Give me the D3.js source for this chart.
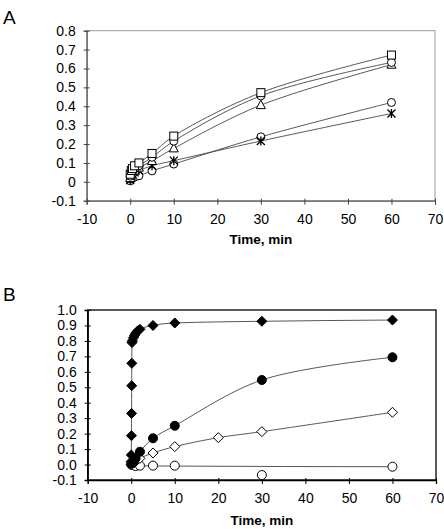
<!DOCTYPE html>
<html><head><meta charset="utf-8">
<script src="https://cdn.jsdelivr.net/npm/d3@7"></script>
<style>
html,body{margin:0;padding:0;background:#fff;}
svg{display:block;font-family:"Liberation Sans",Arial,sans-serif;}
</style></head>
<body>
<svg id="chart" width="444" height="529"></svg>
<script>
// ---------- Panel A data ----------
const timeA = [0, 0.25, 0.5, 1, 2, 5, 10, 30, 60];
const squaresA   = [0.040, 0.060, 0.070, 0.085, 0.100, 0.150, 0.242, 0.472, 0.671];
const circlesHiA = [0.030, 0.050, 0.060, 0.070, 0.085, 0.130, 0.215, 0.455, 0.632];
const trianglesA = [0.020, 0.040, 0.050, 0.060, 0.075, 0.110, 0.177, 0.406, 0.620];
const circlesLoA = [0.005, 0.015, 0.020, 0.025, 0.032, 0.058, 0.094, 0.238, 0.420];
const starsA     = [0.010, 0.030, 0.040, 0.050, 0.060, 0.085, 0.112, 0.216, 0.362];
const xTicks = [-10, 0, 10, 20, 30, 40, 50, 60, 70];
const yTicksA = [-0.1, 0, 0.1, 0.2, 0.3, 0.4, 0.5, 0.6, 0.7, 0.8];

// ---------- Panel B data ----------
const timeDiamondB = [0, 0.02, 0.05, 0.08, 0.1, 0.13, 0.17, 0.25, 0.5, 0.75, 1, 1.5, 2, 5, 10, 30, 60];
const filledDiamondB = [0.020, 0.062, 0.187, 0.331, 0.510, 0.655, 0.789, 0.800, 0.820, 0.835, 0.850, 0.865, 0.875, 0.900, 0.916, 0.927, 0.935];
const timeB = [0, 0.25, 0.5, 1, 2, 5, 10, 30, 60];
const filledCircleB = [0.005, 0.010, 0.020, 0.040, 0.083, 0.170, 0.251, 0.547, 0.694];
const timeOpenDiamondB = [0, 0.5, 1, 2, 5, 10, 20, 30, 60];
const openDiamondB = [0.000, 0.010, 0.020, 0.040, 0.075, 0.116, 0.174, 0.213, 0.338];
const openCircleB = [0.000, -0.002, -0.004, -0.010, -0.007, -0.007, -0.007, -0.068, -0.014];
// fitted trend for the open circles (the curve does not pass through the 30-min point)
const openCircleFitT = [0, 1, 2, 5, 10, 60];
const openCircleFitV = [0.000, -0.004, -0.008, -0.009, -0.010, -0.014];
const yTicksB = [-0.1, 0, 0.1, 0.2, 0.3, 0.4, 0.5, 0.6, 0.7, 0.8, 0.9, 1.0];

const svg = d3.select("#chart");
const LINE = "#444";
const FONT = "Liberation Sans, Arial, sans-serif";

function drawPanel(cfg){
  const g = svg.append("g");
  const x = d3.scaleLinear().domain([-10,70]).range([cfg.left, cfg.right]);
  const y = d3.scaleLinear().domain(cfg.yDomain).range([cfg.bottom, cfg.top]);
  g.append("rect").attr("x", cfg.left).attr("y", cfg.top)
    .attr("width", cfg.right-cfg.left).attr("height", cfg.bottom-cfg.top)
    .attr("fill","none").attr("stroke", cfg.frameColor).attr("stroke-width", cfg.frameWidth);
  const ya = g.append("g").attr("transform", `translate(${cfg.left},0)`)
    .call(d3.axisLeft(y).tickValues(cfg.yTicks).tickSize(3).tickPadding(8).tickFormat(cfg.yFmt));
  ya.select(".domain").attr("stroke", cfg.axisColor).attr("stroke-width", cfg.axisWidth);
  ya.selectAll(".tick line").attr("x1", 3).attr("x2", -3).attr("stroke", cfg.axisColor);
  ya.selectAll(".tick text").attr("font-size", 14).attr("fill","#000").attr("font-family",FONT);
  const xa = g.append("g").attr("transform", `translate(0,${cfg.bottom})`)
    .call(d3.axisBottom(x).tickValues(xTicks).tickSize(4).tickPadding(9).tickFormat(d => String(d)));
  xa.select(".domain").attr("stroke", cfg.axisColor).attr("stroke-width", cfg.axisWidth);
  xa.selectAll(".tick line").attr("y1", -2).attr("y2", 4).attr("stroke", cfg.axisColor);
  xa.selectAll(".tick text").attr("font-size", 14).attr("fill","#000").attr("font-family",FONT);
  g.append("text").attr("x", (cfg.left+cfg.right)/2).attr("y", cfg.bottom + cfg.titleOffset)
    .attr("text-anchor","middle").attr("font-size", 13.5).attr("font-weight","bold").text("Time, min");
  g.append("text").attr("x", 3).attr("y", cfg.labelY).attr("font-size", 19).text(cfg.label);
  return {g, x, y};
}

function line(g, x, y, ts, vs, curve){
  const pts = ts.map((t,i)=>[x(t), y(vs[i])]);
  g.append("path").attr("d", d3.line().curve(curve || d3.curveCatmullRom.alpha(0.5))(pts))
    .attr("fill","none").attr("stroke", LINE).attr("stroke-width", 0.9);
}
function markers(g, x, y, ts, vs, kind, fill){
  const sel = g.append("g");
  ts.forEach((t,i)=>{
    const cx = x(t), cy = y(vs[i]);
    let s;
    if(kind==="square") s = sel.append("rect").attr("x",cx-4).attr("y",cy-4).attr("width",8).attr("height",8);
    else if(kind==="circle") s = sel.append("circle").attr("cx",cx).attr("cy",cy).attr("r",4);
    else if(kind==="bigcircle") s = sel.append("circle").attr("cx",cx).attr("cy",cy).attr("r",4.5);
    else if(kind==="triangle") s = sel.append("path").attr("d",`M${cx},${cy-5}L${cx+4.5},${cy+3.5}L${cx-4.5},${cy+3.5}Z`);
    else if(kind==="diamond") s = sel.append("path").attr("d",`M${cx},${cy-5}L${cx+5},${cy}L${cx},${cy+5}L${cx-5},${cy}Z`);
    else if(kind==="star"){
      s = sel.append("path").attr("d",`M${cx-4},${cy-4}L${cx+4},${cy+4}M${cx+4},${cy-4}L${cx-4},${cy+4}M${cx},${cy-4.5}L${cx},${cy+4.5}`);
    }
    s.attr("fill", kind==="star" ? "none" : fill).attr("stroke","#000").attr("stroke-width", kind==="star"?1.3:1);
  });
}

// Panel A
const A = drawPanel({left:86.7, right:435, top:30.7, bottom:200.7, yDomain:[-0.1,0.8], yTicks:yTicksA,
  yFmt: d => String(+d.toFixed(1)), frameColor:"#999", frameWidth:1, axisColor:"#444", axisWidth:1,
  titleOffset:43, label:"A", labelY:24});
[squaresA, circlesHiA, trianglesA, circlesLoA, starsA].forEach(s => line(A.g, A.x, A.y, timeA, s));
markers(A.g, A.x, A.y, timeA, circlesLoA, "circle", "#fff");
markers(A.g, A.x, A.y, timeA, starsA, "star", "#fff");
markers(A.g, A.x, A.y, timeA, trianglesA, "triangle", "#fff");
markers(A.g, A.x, A.y, timeA, circlesHiA, "circle", "#fff");
markers(A.g, A.x, A.y, timeA, squaresA, "square", "#fff");

// Panel B
const B = drawPanel({left:87.7, right:436, top:310, bottom:480, yDomain:[-0.1,1.0], yTicks:yTicksB,
  yFmt: d => d.toFixed(1), frameColor:"#000", frameWidth:1.3, axisColor:"#000", axisWidth:1.3,
  titleOffset:45, label:"B", labelY:301});
line(B.g, B.x, B.y, timeDiamondB, filledDiamondB, d3.curveMonotoneX);
line(B.g, B.x, B.y, timeB, filledCircleB);
line(B.g, B.x, B.y, timeOpenDiamondB, openDiamondB);
line(B.g, B.x, B.y, openCircleFitT, openCircleFitV, d3.curveMonotoneX);
markers(B.g, B.x, B.y, timeB, openCircleB, "bigcircle", "#fff");
markers(B.g, B.x, B.y, timeOpenDiamondB, openDiamondB, "diamond", "#fff");
markers(B.g, B.x, B.y, timeB, filledCircleB, "bigcircle", "#000");
markers(B.g, B.x, B.y, timeDiamondB, filledDiamondB, "diamond", "#000");
</script>
</body></html>
